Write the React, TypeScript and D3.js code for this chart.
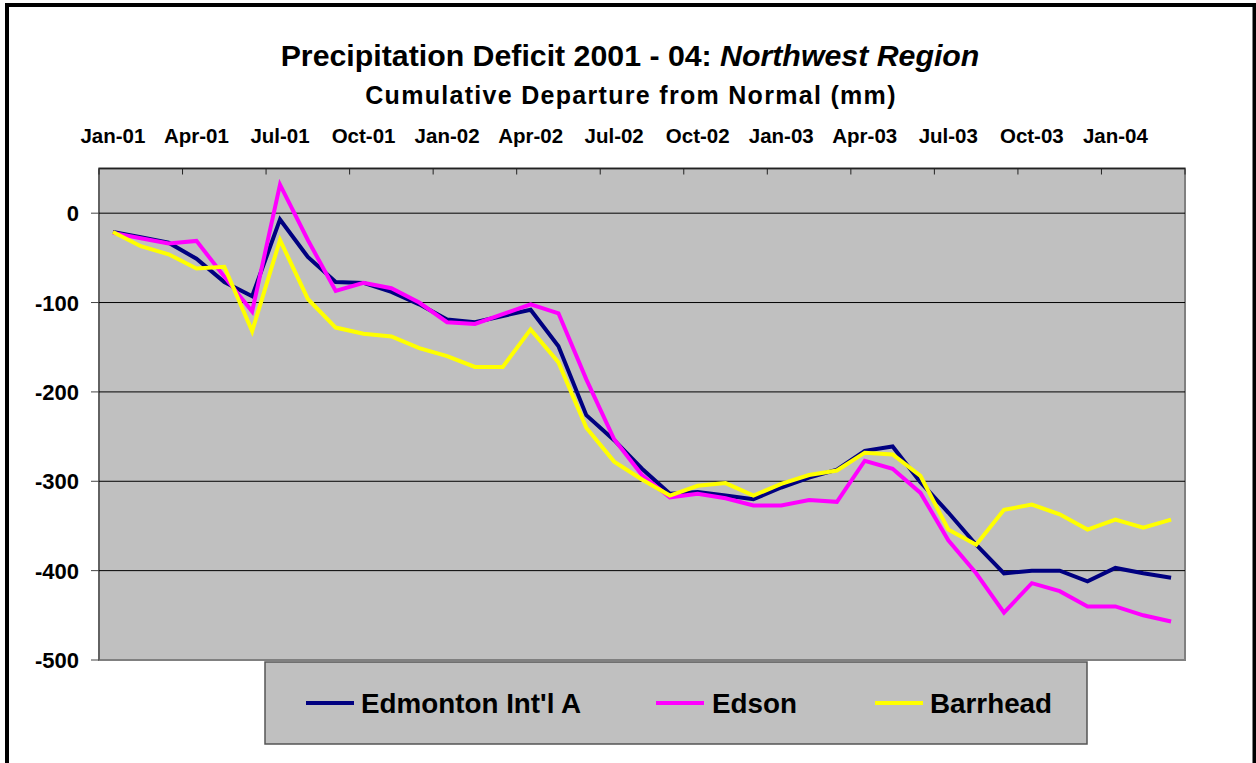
import React from "react";
import * as d3 from "d3";

const months: string[] = [
  "Jan-01","Feb-01","Mar-01","Apr-01","May-01","Jun-01","Jul-01","Aug-01","Sep-01","Oct-01","Nov-01","Dec-01",
  "Jan-02","Feb-02","Mar-02","Apr-02","May-02","Jun-02","Jul-02","Aug-02","Sep-02","Oct-02","Nov-02","Dec-02",
  "Jan-03","Feb-03","Mar-03","Apr-03","May-03","Jun-03","Jul-03","Aug-03","Sep-03","Oct-03","Nov-03","Dec-03",
  "Jan-04","Feb-04","Mar-04",
];

const edmonton: number[] = [
  -21, -27, -33, -51, -77, -93, -7, -49, -77, -78, -88, -102,
  -119, -122, -115, -108, -149, -226, -254, -286, -314, -312, -316, -320,
  -307, -296, -287, -266, -261, -301, -335, -371, -403, -400, -400, -412,
  -397, -403, -408,
];

const edson: number[] = [
  -22, -28, -34, -31, -71, -110, 32, -30, -87, -78, -84, -100,
  -122, -124, -113, -102, -112, -186, -253, -293, -318, -314, -319, -327,
  -327, -321, -323, -277, -286, -313, -366, -403, -447, -414, -423, -440,
  -440, -450, -457,
];

const barrhead: number[] = [
  -21, -37, -46, -62, -60, -132, -30, -96, -128, -135, -138, -151,
  -160, -172, -172, -130, -167, -240, -278, -298, -316, -305, -302, -316,
  -303, -293, -288, -268, -270, -294, -354, -371, -332, -326, -337, -354,
  -343, -352, -343,
];

const seriesNames: string[] = ["Edmonton Int'l A", "Edson", "Barrhead"];
const seriesColors: string[] = ["#000080", "#FF00FF", "#FFFF00"];
const yTicks: number[] = [0, -100, -200, -300, -400, -500];
const yDomain: [number, number] = [-500, 50];

const FONT = "'Liberation Sans', Arial, sans-serif";

export default function App() {
  const W = 1256;
  const H = 763;
  const plot = { left: 99, right: 1185, top: 168.5, bottom: 660 };

  const x = d3.scaleBand<string>().domain(months).range([plot.left, plot.right]).padding(0);
  const y = d3.scaleLinear().domain(yDomain).range([plot.bottom, plot.top]);

  const allSeries = [edmonton, edson, barrhead];
  const line = d3
    .line<number>()
    .x((_, i) => (x(months[i]) as number) + x.bandwidth() / 2)
    .y((d) => y(d));

  const tickIdx = months.map((_, i) => i).filter((i) => i % 3 === 0);

  const legendItems = [
    { lx: 306, tx: 361 },
    { lx: 656, tx: 712 },
    { lx: 875, tx: 930 },
  ];

  return (
    <svg
      width={W}
      height={H}
      style={{ position: "absolute", left: 0, top: 0, background: "#fff" }}
      fontFamily={FONT}
    >
      <rect x={0} y={0} width={W} height={H} fill="#fff" />
      {/* outer frame */}
      <rect x={7} y={5} width={1247.5} height={800} fill="none" stroke="#000" strokeWidth={4} />

      {/* titles */}
      <text x={630} y={66} textAnchor="middle" fontSize={30.3} fontWeight="bold" fill="#000">
        <tspan>Precipitation Deficit 2001 - 04: </tspan>
        <tspan fontStyle="italic">Northwest Region</tspan>
      </text>
      <text x={631} y={104} textAnchor="middle" fontSize={25} fontWeight="bold" fill="#000" letterSpacing={1.3}>
        Cumulative Departure from Normal (mm)
      </text>

      {/* plot area */}
      <rect
        x={plot.left}
        y={plot.top}
        width={plot.right - plot.left}
        height={plot.bottom - plot.top}
        fill="#C0C0C0"
        stroke="#808080"
        strokeWidth={2}
      />
      <line x1={plot.left} x2={plot.right} y1={plot.top} y2={plot.top} stroke="#222" strokeWidth={1.5} />
      <line x1={plot.left} x2={plot.left} y1={plot.top} y2={plot.bottom} stroke="#444" strokeWidth={1} />

      {/* gridlines */}
      {yTicks
        .filter((t) => t !== -500)
        .map((t) => (
          <line key={t} x1={plot.left} x2={plot.right} y1={y(t)} y2={y(t)} stroke="#000" strokeWidth={1} />
        ))}

      {/* y ticks + labels */}
      {yTicks.map((t) => (
        <g key={"yt" + t}>
          <line x1={plot.left - 8} x2={plot.left} y1={y(t)} y2={y(t)} stroke="#444" strokeWidth={1} />
          <text x={79} y={y(t) + 8} textAnchor="end" fontSize={22} fontWeight="bold" fill="#000">
            {t}
          </text>
        </g>
      ))}

      {/* x ticks (top) */}
      {tickIdx.map((i) => (
        <line
          key={"xt" + i}
          x1={x(months[i]) as number}
          x2={x(months[i]) as number}
          y1={plot.top}
          y2={plot.top + 6}
          stroke="#222"
          strokeWidth={1}
        />
      ))}
      <line x1={plot.right} x2={plot.right} y1={plot.top} y2={plot.top + 6} stroke="#222" strokeWidth={1} />

      {/* x labels */}
      {tickIdx.map((i) => (
        <text
          key={"xl" + i}
          x={(x(months[i]) as number) + x.bandwidth() / 2}
          y={143}
          textAnchor="middle"
          fontSize={20.5}
          fontWeight="bold"
          fill="#000"
        >
          {months[i]}
        </text>
      ))}

      {/* series */}
      {allSeries.map((s, k) => (
        <path
          key={"s" + k}
          d={line(s) as string}
          fill="none"
          stroke={seriesColors[k]}
          strokeWidth={4}
          strokeLinejoin="miter"
        />
      ))}

      {/* legend */}
      <rect x={265} y={662} width={822} height={82} fill="#C0C0C0" stroke="#555" strokeWidth={1.5} />
      {seriesNames.map((n, k) => (
        <g key={"lg" + k}>
          <line
            x1={legendItems[k].lx}
            x2={legendItems[k].lx + 48}
            y1={703}
            y2={703}
            stroke={seriesColors[k]}
            strokeWidth={4}
          />
          <text x={legendItems[k].tx} y={713} fontSize={27.8} fontWeight="bold" fill="#000">
            {n}
          </text>
        </g>
      ))}
    </svg>
  );
}
